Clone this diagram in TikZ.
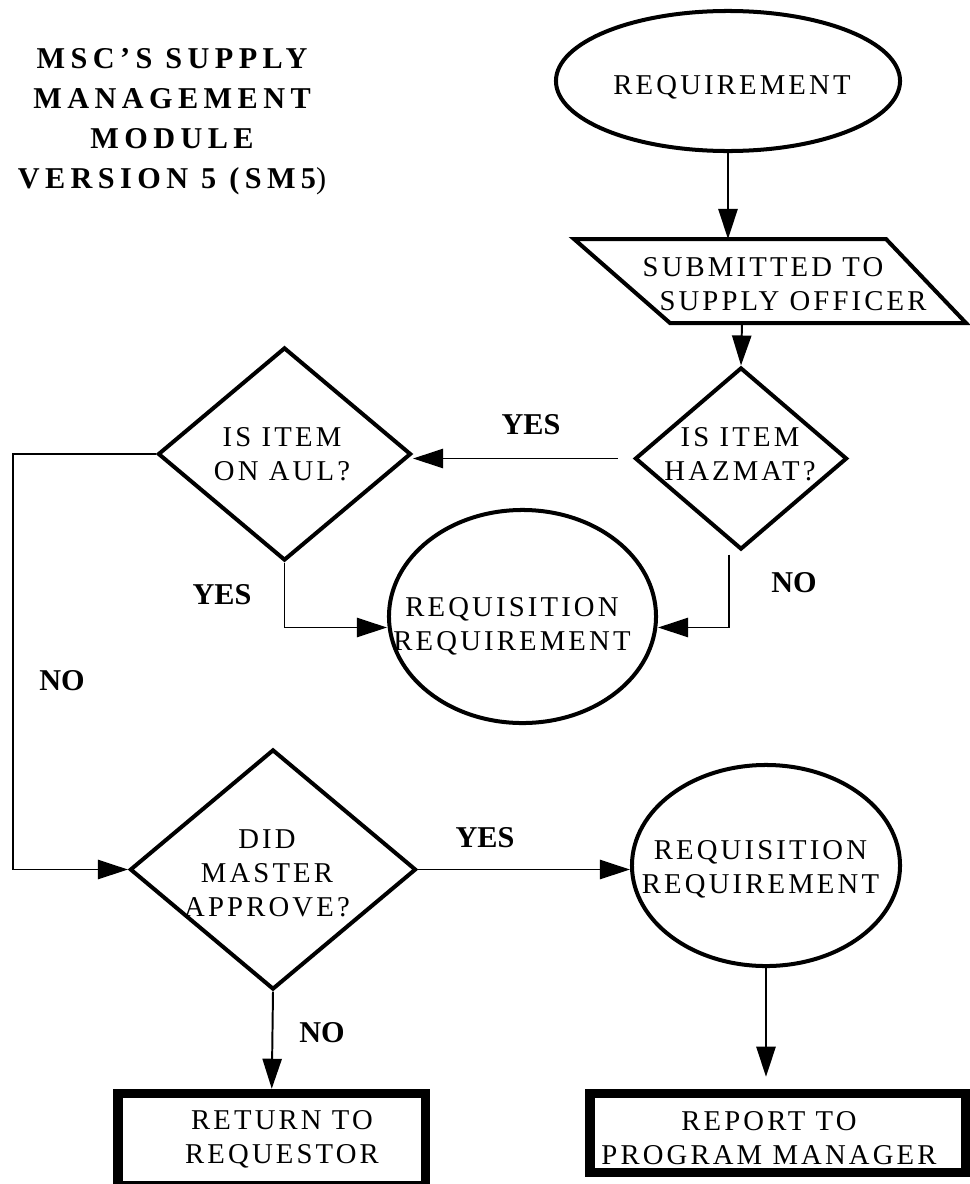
\documentclass[tikz,border=0pt]{standalone}
\usepackage{fontspec}
\setmainfont{Liberation Serif}
\newfontfamily\boxfont{Liberation Serif}[LetterSpace=11]
\newfontfamily\headfont{Liberation Serif}[LetterSpace=18]
\usetikzlibrary{shapes.geometric,arrows.meta,calc}

\begin{document}
\begin{tikzpicture}[x=0.025cm, y=-0.025cm,
	every node/.style={inner sep=0pt},
	txt/.style={font=\boxfont\fontsize{20.4}{24.2}\selectfont, align=center},
	shp/.style={draw, line width=2.85pt},
	oval/.style={shp, ellipse},
	decide/.style={shp, diamond},
	endbox/.style={draw, line width=6.75pt, rectangle},
	lbl/.style={font=\bfseries\fontsize{21.5}{25}\selectfont},
	arr/.style={line width=1.4pt, -{Triangle[length=0.75cm, width=0.48cm]}}]
	\useasboundingbox (0,0) rectangle (969,1184);

	% title
	\node[font=\headfont\bfseries\fontsize{21.5}{28.45}\selectfont, align=center] (title) at (172,122)
		{MSC’S SUPPLY\\MANAGEMENT\\MODULE\\VERSION 5 (SM5{\mdseries)}};

	% shapes
	\node[oval, minimum width=8.6cm, minimum height=3.5cm] (req) at (728,81) {};
	\node[txt] (reqtxt) at (732,87) {REQUIREMENT};

	\draw[line width=2.85pt] (574,239) -- (886,239) -- (966,323) -- (670,323) -- cycle;
	\node[txt] (sub) at (778,284) {SUBMITTED TO\hspace*{0.75cm}\\\hspace*{0.75cm}SUPPLY OFFICER};
	\coordinate (subtop) at (728,239);
	\coordinate (subbot) at (742,323);

	\node[decide, minimum width=5.3cm, minimum height=4.55cm] (haz) at (741,458.5) {};
	\node[txt] (haztxt) at (740,454) {IS ITEM\\HAZMAT?};

	\node[decide, minimum width=6.325cm, minimum height=5.325cm] (aul) at (284.5,454) {};
	\node[txt] (aultxt) at (282,454) {IS ITEM\\ON AUL?};

	\node[oval, minimum width=6.675cm, minimum height=5.325cm] (req1) at (522.5,616.5) {};
	\node[txt] (req1txt) at (512,626.5) {REQUISITION\\REQUIREMENT};

	\node[decide, minimum width=7.15cm, minimum height=6cm] (did) at (273,869.5) {};
	\node[txt] (didtxt) at (267,873.5) {DID\\MASTER\\APPROVE?};

	\node[oval, minimum width=6.7cm, minimum height=5.025cm] (req2) at (766,865.5) {};
	\node[txt] (req2txt) at (760.5,869.5) {REQUISITION\\REQUIREMENT};

	\node[endbox, minimum width=7.6875cm, minimum height=2.3125cm] (ret) at (271.75,1139.75) {};
	\node[txt] (rettxt) at (282,1139) {RETURN TO\\REQUESTOR};

	\node[endbox, minimum width=9.3875cm, minimum height=1.975cm] (rep) at (777.75,1133) {};
	\node[txt] (reptxt) at (769,1138) {REPORT TO\\PROGRAM MANAGER};

	% labels
	\node[lbl] (yesA) at (531,425) {YES};
	\node[lbl] (yesB) at (222,595) {YES};
	\node[lbl] (noA) at (794,583) {NO};
	\node[lbl] (noB) at (62,681) {NO};
	\node[lbl] (yesC) at (485,838) {YES};
	\node[lbl] (noC) at (322,1033) {NO};

	% connectors
	\draw[arr] (req.south) -- (subtop);
	\draw[arr] (subbot) -- (haz.north);
	\draw[arr, shorten <=0.375cm] (haz.west) -- (haz.west -| aul.east);
	\draw[arr] ($(haz.south)+(-12,3)$) |- ($(req1.east)+(0,11)$);
	\draw[arr] (aul.south) |- ($(req1.west)+(0,11)$);
	\coordinate (bendL) at (13,458);
	\draw[arr] (aul.west) -| (bendL |- did.west) -- (did.west);
	\draw[arr] (did.east) -- (did.east -| req2.west);
	\draw[arr] (did.south) -- (ret.north);
	\draw[arr, shorten >=0.3cm] (req2.south) -- (req2.south |- rep.north);
\end{tikzpicture}
\end{document}
